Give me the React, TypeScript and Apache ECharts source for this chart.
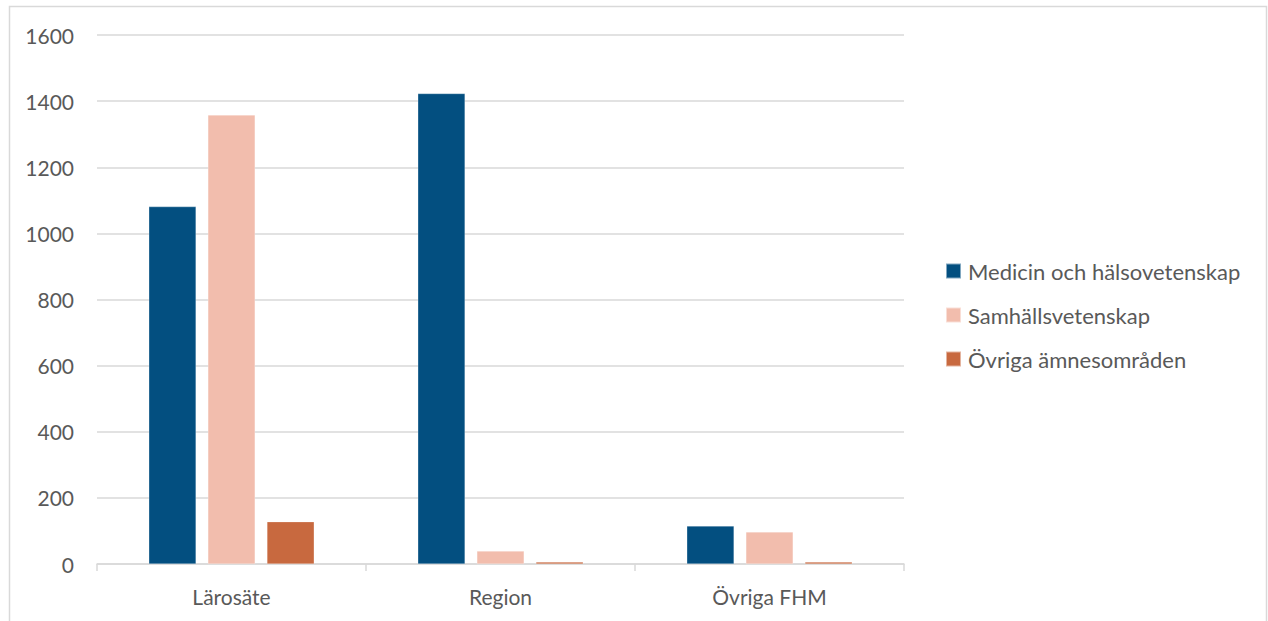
import React, { useEffect, useRef } from "react";
import * as echarts from "echarts";

const categories = ["Lärosäte", "Region", "Övriga FHM"];
const seriesNames = ["Medicin och hälsovetenskap", "Samhällsvetenskap", "Övriga ämnesområden"];
const medicin = [1081, 1423, 115];
const samhall = [1358, 39, 97];
const ovriga = [128, 6, 6];
const colors = ["#034F80", "#F2BDAD", "#C8693F"];

export default function App() {
  const ref = useRef<HTMLDivElement>(null);
  useEffect(() => {
    document.body.style.margin = "0";
    const chart = echarts.init(ref.current!, null, { renderer: "svg" });
    const font = "Lato";
    const values = [medicin, samhall, ovriga];
    chart.setOption({
      animation: false,
      backgroundColor: "#ffffff",
      textStyle: { fontFamily: font },
      graphic: [
        {
          type: "rect",
          shape: { x: 9.5, y: 6.5, width: 1257, height: 630 },
          style: { fill: "none", stroke: "#d9d9d9", lineWidth: 1.5 },
          silent: true,
        },
      ],
      grid: { left: 97, right: 364, top: 35, bottom: 57 },
      legend: {
        orient: "vertical",
        left: 945,
        top: 260,
        padding: 0,
        itemWidth: 15,
        itemHeight: 15,
        itemGap: 22,
        icon: "rect",
        textStyle: { fontSize: 22, lineHeight: 22, color: "#595959", fontFamily: font, padding: [0, 0, 0, 2] },
        data: seriesNames,
      },
      xAxis: {
        type: "category",
        data: categories,
        axisLine: { lineStyle: { color: "#d9d9d9", width: 1.5 } },
        axisTick: { show: true, length: 7, lineStyle: { color: "#d9d9d9", width: 1.5 } },
        axisLabel: { fontSize: 21, color: "#595959", margin: 22, fontFamily: font },
      },
      yAxis: {
        type: "value",
        min: 0,
        max: 1600,
        interval: 200,
        axisLine: { show: false },
        axisTick: { show: false },
        splitLine: { lineStyle: { color: "#d9d9d9", width: 1.5 } },
        axisLabel: {
          fontSize: 21,
          color: "#595959",
          margin: 23,
          fontFamily: font,
          formatter: (v: number) => String(v),
        },
      },
      series: seriesNames.map((name, i) => ({
        name,
        type: "bar",
        data: values[i],
        barGap: "25%",
        barCategoryGap: "38.5%",
        itemStyle: { color: colors[i], borderColor: "rgba(255,255,255,0.5)", borderWidth: 0.5 },
      })),
    });
    return () => chart.dispose();
  }, []);
  return <div ref={ref} style={{ position: "absolute", left: 0, top: 0, width: 1268, height: 621 }} />;
}
